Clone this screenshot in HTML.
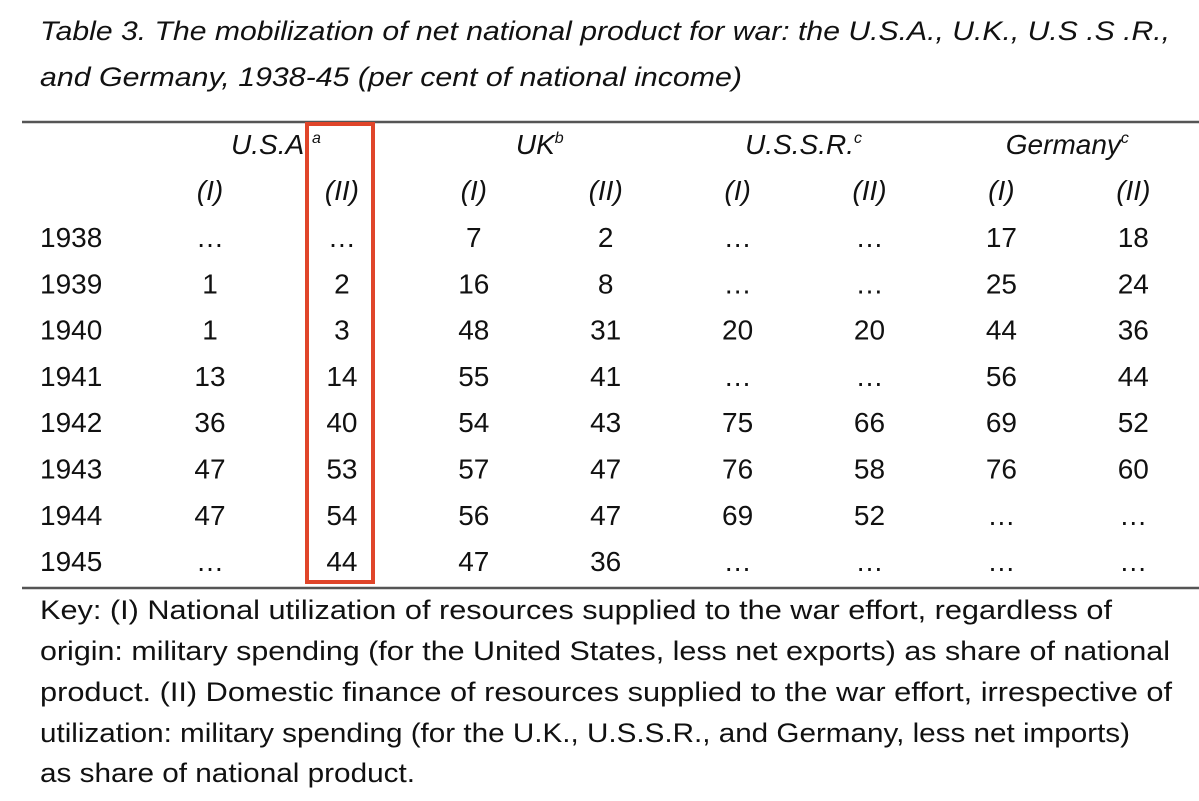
<!DOCTYPE html>
<html><head><meta charset="utf-8"><style>
html,body{margin:0;padding:0;background:#fff;}
svg{display:block;}
text{font-family:"Liberation Sans",sans-serif;fill:#111;}
.it{font-style:italic;}
</style></head><body>
<svg id="t" width="1199" height="801" viewBox="0 0 1199 801">
<text class="it" x="40" y="40" font-size="27" textLength="1130" lengthAdjust="spacingAndGlyphs">Table 3. The mobilization of net national product for war: the U.S.A., U.K., U.S .S .R.,</text>
<text class="it" x="40" y="86" font-size="27" textLength="702" lengthAdjust="spacingAndGlyphs">and Germany, 1938-45 (per cent of national income)</text>
<line x1="22" y1="122" x2="1199" y2="122" stroke="#555" stroke-width="2.5"/>
<line x1="22" y1="588" x2="1199" y2="588" stroke="#555" stroke-width="2.5"/>
<g id="body"></g>
<rect x="307" y="124" width="66" height="458" fill="none" stroke="#e0452a" stroke-width="4"/>
<text x="40" y="619" font-size="27" textLength="1072" lengthAdjust="spacingAndGlyphs">Key: (I) National utilization of resources supplied to the war effort, regardless of</text>
<text x="40" y="660" font-size="27" textLength="1130" lengthAdjust="spacingAndGlyphs">origin: military spending (for the United States, less net exports) as share of national</text>
<text x="40" y="701" font-size="27" textLength="1132" lengthAdjust="spacingAndGlyphs">product. (II) Domestic finance of resources supplied to the war effort, irrespective of</text>
<text x="40" y="742" font-size="27" textLength="1090" lengthAdjust="spacingAndGlyphs">utilization: military spending (for the U.K., U.S.S.R., and Germany, less net imports)</text>
<text x="40" y="782" font-size="27" textLength="375" lengthAdjust="spacingAndGlyphs">as share of national product.</text>
</svg>
<script>
const years = ["1938","1939","1940","1941","1942","1943","1944","1945"];
const countries = ["U.S.A.","UK","U.S.S.R.","Germany"];
const notes = ["a","b","c","c"];
const usaI = ["…","1","1","13","36","47","47","…"];
const usaII = ["…","2","3","14","40","53","54","44"];
const ukI = ["7","16","48","55","54","57","56","47"];
const ukII = ["2","8","31","41","43","47","47","36"];
const ussrI = ["…","…","20","…","75","76","69","…"];
const ussrII = ["…","…","20","…","66","58","52","…"];
const gerI = ["17","25","44","56","69","76","…","…"];
const gerII = ["18","24","36","44","52","60","…","…"];
const series = [usaI,usaII,ukI,ukII,ussrI,ussrII,gerI,gerII];
const seriesNames = ["usa-i","usa-ii","uk-i","uk-ii","ussr-i","ussr-ii","germany-i","germany-ii"];

const NS="http://www.w3.org/2000/svg";
const g=document.getElementById('body');
const colX=i=>210+i*131.9;
const rowY=r=>247+r*46.3;
function txt(x,y,s,cls,anchor){
  const t=document.createElementNS(NS,'text');
  t.setAttribute('x',x);t.setAttribute('y',y);
  t.setAttribute('font-size','28');
  t.setAttribute('text-anchor',anchor||'middle');
  if(cls)t.setAttribute('class',cls);
  t.textContent=s;g.appendChild(t);return t;
}
countries.forEach((c,i)=>{
  const cx=(colX(2*i)+colX(2*i+1))/2;
  const t=txt(cx,154,c,'it');
  
  
  const ts=document.createElementNS(NS,'tspan');
  ts.setAttribute('dy','-11');ts.setAttribute('font-size','16');
  ts.textContent=notes[i];t.appendChild(ts);
});
series.forEach((s,i)=>{
  const h=txt(colX(i),200,i%2?'(II)':'(I)','it');
  
  
});
years.forEach((y,r)=>{
  const t=txt(40,rowY(r),y,'','start');
  
  
  series.forEach((s,i)=>{
    const c=txt(colX(i),rowY(r),s[r]);
    
    
  });
});
</script>
</body></html>
